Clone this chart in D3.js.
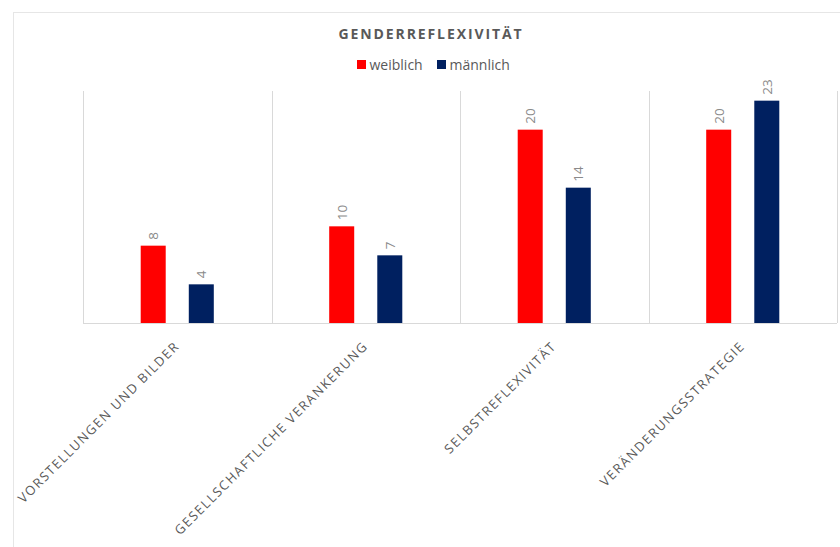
<!DOCTYPE html>
<html>
<head>
<meta charset="utf-8">
<script src="https://cdn.jsdelivr.net/npm/d3@7"></script>
<style>
  html, body { margin: 0; padding: 0; background: #fff; }
  svg { display: block; }
</style>
</head>
<body>
<svg id="chart" width="840" height="547"></svg>
<script>
const title = "GENDERREFLEXIVITÄT";
const categories = ["VORSTELLUNGEN UND BILDER", "GESELLSCHAFTLICHE VERANKERUNG", "SELBSTREFLEXIVITÄT", "VERÄNDERUNGSSTRATEGIE"];
const seriesNames = ["weiblich", "männlich"];
const weiblich = [8, 10, 20, 20];
const maennlich = [4, 7, 14, 23];
const seriesColors = ["#ff0000", "#002060"];

const seriesValues = [weiblich, maennlich];
const data = categories.map((c, i) => ({
  cat: c,
  vals: seriesNames.map((s, j) => ({ key: s, value: seriesValues[j][i], color: seriesColors[j] }))
}));

const svg = d3.select("#chart");
const plot = { left: 83, right: 837, top: 91, bottom: 323 };

// chart border
svg.append("rect")
  .attr("x", 13.5).attr("y", 12.5)
  .attr("width", 900).attr("height", 600)
  .attr("fill", "none").attr("stroke", "#e6e6e6").attr("stroke-width", 1);

const x0 = d3.scaleBand().domain(categories).range([plot.left, plot.right]).padding(0);
const x1 = d3.scaleBand().domain(seriesNames).range([0, x0.bandwidth()])
  .paddingInner(0.48).paddingOuter(1.2);
const y = d3.scaleLinear().domain([0, 24]).range([plot.bottom, plot.top]);

// vertical gridlines at category boundaries
const bounds = categories.map(c => x0(c)).concat([x0(categories[categories.length - 1]) + x0.bandwidth()]);
svg.append("g").selectAll("line").data(bounds).join("line")
  .attr("x1", d => Math.round(d) + 0.5).attr("x2", d => Math.round(d) + 0.5)
  .attr("y1", plot.top).attr("y2", plot.bottom)
  .attr("stroke", "#d9d9d9").attr("stroke-width", 1);

// baseline
svg.append("line")
  .attr("x1", plot.left).attr("x2", plot.right)
  .attr("y1", y(0) + 0.5).attr("y2", y(0) + 0.5)
  .attr("stroke", "#d9d9d9").attr("stroke-width", 1);

// bars
const groups = svg.append("g").selectAll("g").data(data).join("g")
  .attr("transform", d => `translate(${x0(d.cat)},0)`);

groups.selectAll("rect").data(d => d.vals).join("rect")
  .attr("x", d => x1(d.key))
  .attr("width", x1.bandwidth())
  .attr("y", d => y(d.value))
  .attr("height", d => y(0) - y(d.value))
  .attr("fill", d => d.color);

// value labels (rotated)
groups.selectAll("text").data(d => d.vals).join("text")
  .attr("transform", d => `translate(${x1(d.key) + x1.bandwidth() / 2 + 5},${y(d.value) - 6}) rotate(-90)`)
  .attr("text-anchor", "start")
  .attr("font-family", "'Open Sans', sans-serif")
  .attr("font-size", 13.5)
  .attr("fill", "#8a8a8a")
  .text(d => d.value);

// category labels, rotated -45
svg.append("g").selectAll("text").data(categories).join("text")
  .attr("transform", d => `translate(${x0(d) + x0.bandwidth() / 2 + 3},${plot.bottom + 24}) rotate(-45)`)
  .attr("text-anchor", "end")
  .attr("font-family", "'Open Sans', sans-serif")
  .attr("font-size", 13)
  .attr("letter-spacing", "1.5px")
  .attr("fill", "#595959")
  .text(d => d);

// title
svg.append("text")
  .attr("x", 431).attr("y", 39)
  .attr("text-anchor", "middle")
  .attr("font-family", "'Open Sans', sans-serif")
  .attr("font-weight", "bold")
  .attr("font-size", 14)
  .attr("letter-spacing", "1.9px")
  .attr("fill", "#595959")
  .text(title);

// legend
const legendItems = [
  { name: seriesNames[0], color: seriesColors[0], x: 357 },
  { name: seriesNames[1], color: seriesColors[1], x: 437 }
];
const lg = svg.append("g").selectAll("g").data(legendItems).join("g")
  .attr("transform", d => `translate(${d.x},0)`);
lg.append("rect").attr("x", 0).attr("y", 60).attr("width", 9).attr("height", 9)
  .attr("fill", d => d.color);
lg.append("text").attr("x", 12.5).attr("y", 70)
  .attr("font-family", "'Open Sans', sans-serif")
  .attr("font-size", 14)
  .attr("fill", "#595959")
  .text(d => d.name);
</script>
</body>
</html>
